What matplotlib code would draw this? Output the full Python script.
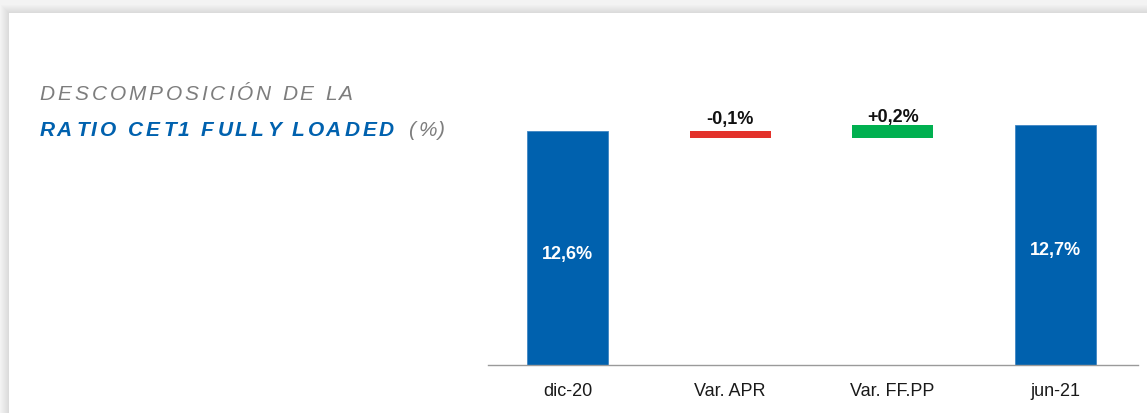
import matplotlib
matplotlib.use('Agg')
import matplotlib.pyplot as plt
from matplotlib.patches import Rectangle
from matplotlib.transforms import IdentityTransform
from matplotlib.font_manager import FontProperties, findfont
from matplotlib.ft2font import FT2Font

plt.rcParams['font.family'] = ['Liberation Sans', 'DejaVu Sans']

categories = ['dic-20', 'Var. APR', 'Var. FF.PP', 'jun-21']
start_value = 12.6
changes = [-0.1, 0.2]
end_value = 12.7
total_labels = ['12,6%', '12,7%']
change_labels = ['-0,1%', '+0,2%']

title_line1 = 'DESCOMPOSICIÓN DE LA'
title_line2 = 'RATIO CET1 FULLY LOADED'
title_unit = '(%)'

BLUE = '#0061ae'
RED = '#e3322b'
GREEN = '#00b050'
GREY_TXT = '#7d7d7d'
DPI = 100

fig = plt.figure(figsize=(11.47, 4.14), dpi=DPI)
fig.patch.set_facecolor('#f3f3f3')

# card with soft shadow (kept behind the axes)
px = IdentityTransform()
for i in range(8, 0, -1):
    fig.patches.append(Rectangle((9 - i, -10), 1300, 410 + i, transform=px,
                                 facecolor='k', alpha=0.010, edgecolor='none',
                                 zorder=-5))
fig.patches.append(Rectangle((9, -10), 1300, 410, transform=px,
                             facecolor='white', edgecolor='none', zorder=-4))


def spaced_text(x, y, s, track, color, **kw):
    # letter-spaced text, one glyph per Text object
    prop = FontProperties(family='Liberation Sans', **kw)
    font = FT2Font(findfont(prop))
    font.set_size(prop.get_size_in_points(), DPI)
    for ch in s:
        g = font.load_char(ord(ch))
        if ch != ' ':
            fig.text(x + g.horiBearingX / 64, y, ch, transform=px, ha='left',
                     va='baseline', fontproperties=prop, color=color)
        x += g.linearHoriAdvance / 65536 + track
    return x


spaced_text(39, 314, title_line1, 2.85, GREY_TXT, style='italic', size=15)
xe = spaced_text(39, 278, title_line2 + ' ', 2.9, BLUE, style='italic',
                 weight='bold', size=15)
spaced_text(xe + 2, 278, title_unit, 2.9, GREY_TXT, style='italic', size=15)

ax = fig.add_axes([488 / 1147, 48 / 414, 650 / 1147, 260 / 414])
ax.set_facecolor('none')

x = list(range(len(categories)))
# totals
ax.bar([x[0], x[-1]], [start_value, end_value], width=0.5, color=BLUE,
       edgecolor='#3f86c4', linewidth=0.6)
# changes
level = start_value
for i, (d, lab) in enumerate(zip(changes, change_labels)):
    bottom = level + min(d, 0)
    ax.bar(x[i + 1], abs(d), bottom=bottom, width=0.5,
           color=RED if d < 0 else GREEN)
    ax.annotate(lab, (x[i + 1], bottom + abs(d)),
                xytext=(0, 3 if d < 0 else 0),
                textcoords='offset points', ha='center', va='bottom',
                fontsize=13, fontweight='bold', color='#111111')
    level += d

ymin, ymax = 9.0, 13.0
for xi, v, lab in zip([x[0], x[-1]], [start_value, end_value], total_labels):
    ax.text(xi, (ymin + v) / 2 - 0.08, lab, ha='center', va='center',
            fontsize=13, fontweight='bold', color='white')

ax.set_ylim(ymin, ymax)
ax.set_xlim(-0.49, 3.51)
ax.set_xticks(x)
ax.set_xticklabels(categories, fontsize=13, color='#1a1a1a')
ax.tick_params(axis='x', length=0, pad=12)
ax.set_yticks([])
for s in ['top', 'left', 'right']:
    ax.spines[s].set_visible(False)
ax.spines['bottom'].set_color('#9a9a9a')
ax.spines['bottom'].set_linewidth(1.0)

fig.savefig('out.png', dpi=DPI, facecolor=fig.get_facecolor())
